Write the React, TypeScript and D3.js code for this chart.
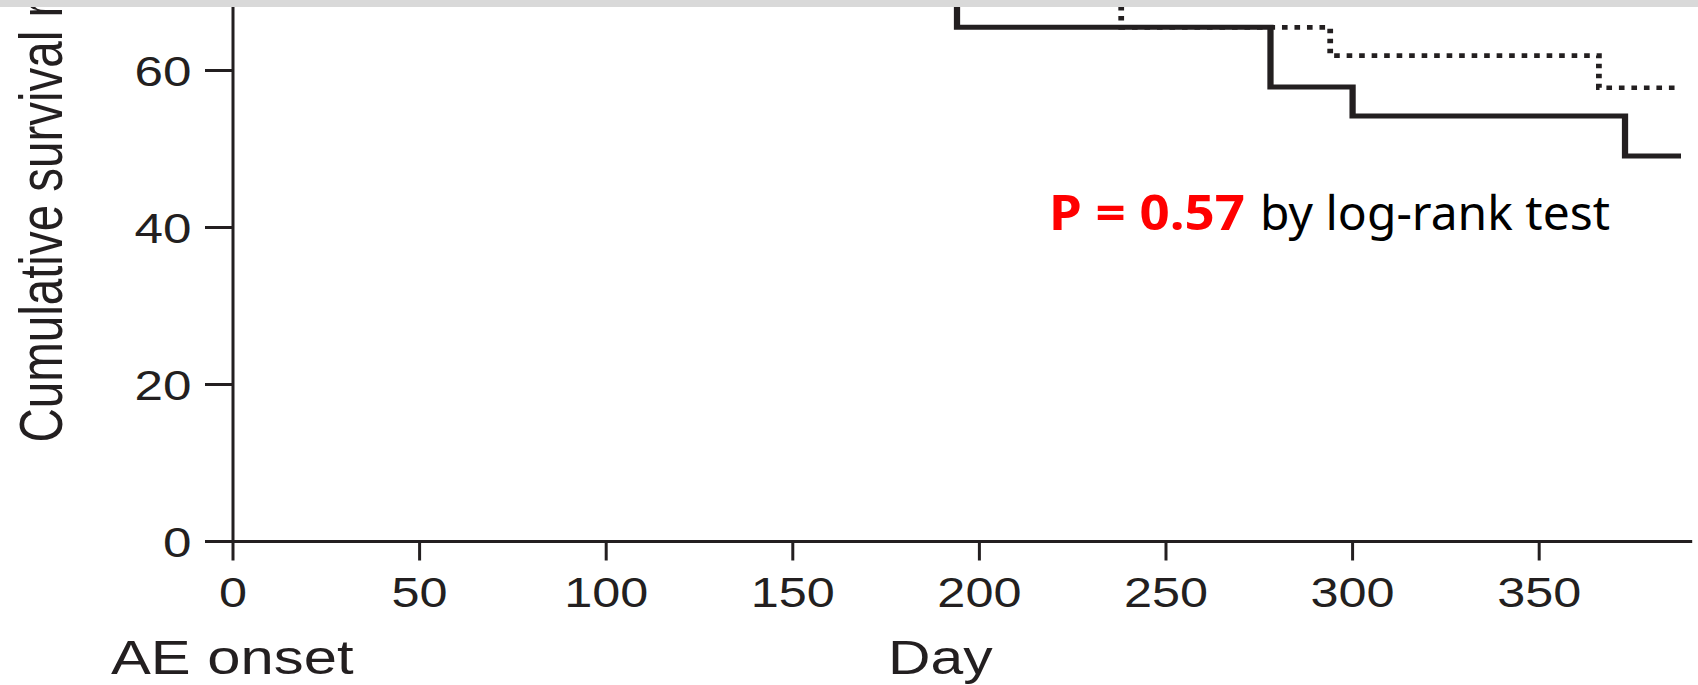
import React, { useEffect } from 'react';
import * as d3 from 'd3';

// Kaplan-Meier steps (day of event, survival % after it), plus last follow-up day
const solidDays = [0, 194, 278, 300, 373];
const solidSurv = [100, 65.5, 57.9, 54.2, 49.1];
const solidEnd = 388;

const dottedDays = [0, 238, 294, 366];
const dottedSurv = [100, 65.5, 61.9, 57.8];
const dottedEnd = 387;

const xTicks = [0, 50, 100, 150, 200, 250, 300, 350];
const yTicks = [0, 20, 40, 60];

const W = 1698;
const H = 685;
const SX = 1.25; // the source picture is stretched horizontally
const ink = '#231f20';
const font = '"Liberation Sans", Arial, sans-serif';

type Pt = [number, number];

const steps = (days: number[], surv: number[], end: number): Pt[] => {
  const pts: Pt[] = days.map((d, i) => [d, surv[i]] as Pt);
  pts.push([end, surv[surv.length - 1]]);
  return pts;
};

const App: React.FC = () => {
  useEffect(() => {
    document.body.style.margin = '0';
  }, []);

  const x = d3.scaleLinear().domain([0, 391]).range([233, 1692.2]);
  const y = d3.scaleLinear().domain([0, 60]).range([541.5, 70.5]);
  const xi = x.copy().range(x.range().map((v) => v / SX));

  const line = d3
    .line<Pt>()
    .x((d) => xi(d[0]))
    .y((d) => y(d[1]))
    .curve(d3.curveStepAfter);

  const solid = line(steps(solidDays, solidSurv, solidEnd)) || '';
  const dotted = line(steps(dottedDays, dottedSurv, dottedEnd)) || '';

  return (
    <svg width={W} height={H} style={{ display: 'block', background: '#fff' }}>
      {/* survival curves */}
      <g transform={`scale(${SX},1)`} fill="none" stroke={ink}>
        <path d={dotted} strokeWidth={4.6} strokeDasharray="4.5 5.5" />
        <path d={solid} strokeWidth={5} />
      </g>

      {/* axes */}
      <g stroke={ink} strokeWidth={3}>
        <line x1={x(0)} x2={x(0)} y1={0} y2={y(0)} />
        <line x1={x(0)} x2={x.range()[1]} y1={y(0)} y2={y(0)} />
        {yTicks.map((t) => (
          <line key={'yt' + t} x1={205} x2={x(0)} y1={y(t)} y2={y(t)} />
        ))}
        {xTicks.map((t) => (
          <line key={'xt' + t} x1={x(t)} x2={x(t)} y1={y(0)} y2={y(0) + 19} />
        ))}
      </g>

      <g fill={ink} fontFamily={font} fontSize={42}>
        {yTicks.map((t) => (
          <text
            key={'yl' + t}
            textAnchor="end"
            transform={`translate(191.5,${y(t) + 15.5}) scale(1.22,1)`}
          >
            {t}
          </text>
        ))}
        {xTicks.map((t) => (
          <text
            key={'xl' + t}
            textAnchor="middle"
            transform={`translate(${x(t)},607) scale(1.2,1)`}
          >
            {t}
          </text>
        ))}
      </g>

      <g fill={ink} fontFamily={font} fontSize={49}>
        <text transform="translate(111,674) scale(1.22,1)">AE onset</text>
        <text transform="translate(888,674) scale(1.2,1)">Day</text>
        <text fontSize={47.5} transform="translate(62,442.5) rotate(-90) scale(1,1.28)">
          Cumulative survival rate (%)
        </text>
      </g>

      <g fontFamily='"Noto Sans", sans-serif' fontSize={48}>
        <text x={1049} y={229.6} fill="#ff0000" fontWeight="bold" textLength={196} lengthAdjust="spacingAndGlyphs">
          P = 0.57
        </text>
        <text x={1260} y={229.6} fill="#000" textLength={350} lengthAdjust="spacingAndGlyphs">
          by log-rank test
        </text>
      </g>

      <rect x={0} y={0} width={W} height={7} fill="#d9d9d9" />
    </svg>
  );
};

export default App;
